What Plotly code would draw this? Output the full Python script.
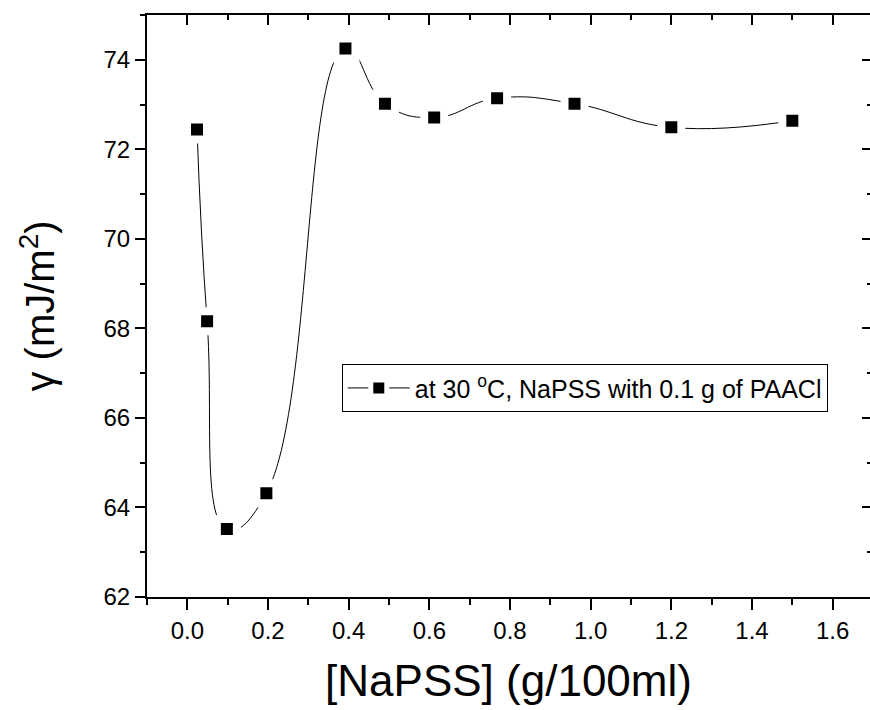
import plotly.graph_objects as go

# Data
napss = [0.024, 0.049, 0.098, 0.196, 0.392, 0.49, 0.612, 0.768, 0.96, 1.2, 1.5]
gamma = [72.44, 68.16, 63.52, 64.32, 74.25, 73.02, 72.71, 73.14, 73.02, 72.49, 72.64]

series_name = "at 30 <sup>o</sup>C, NaPSS with 0.1 g of PAACl"
x_title = "[NaPSS] (g/100ml)"
y_title = "γ (mJ/m<sup>2</sup>)"

x_range = [-0.1, 1.6926]
y_range = [62, 75]

FONT = "Liberation Sans, Arial, sans-serif"

fig = go.Figure()

# spline curve with square symbols; white symbol outline leaves a gap to the curve
fig.add_trace(go.Scatter(
    x=napss, y=gamma, mode="lines+markers", name=series_name,
    line=dict(color="black", width=1, shape="spline", smoothing=1.3),
    marker=dict(symbol="square", size=20, color="black",
                line=dict(color="white", width=8)),
    cliponaxis=False))

axis_common = dict(
    showgrid=False, zeroline=False,
    linecolor="black", linewidth=2,
    tickcolor="black", tickwidth=2,
    tickfont=dict(family=FONT, size=24, color="black"),
)

fig.update_layout(
    width=870, height=710,
    margin=dict(l=147, r=0, t=15, b=113),
    paper_bgcolor="white", plot_bgcolor="white",
    font=dict(family=FONT, color="black"),
    xaxis=dict(
        range=x_range, dtick=0.2, tick0=0, ticks="outside", ticklen=11,
        tickformat=".1f", showline=True,
        minor=dict(dtick=0.1, tick0=0, ticks="outside", ticklen=6, tickwidth=2, tickcolor="black"),
        title=dict(text=x_title, font=dict(family=FONT, size=44, color="black"), standoff=22),
        **axis_common),
    xaxis2=dict(
        range=x_range, dtick=0.2, tick0=0, ticks="inside", ticklen=10,
        overlaying="x", side="top", showticklabels=False, showline=True,
        minor=dict(dtick=0.1, tick0=0, ticks="inside", ticklen=5, tickwidth=2, tickcolor="black"),
        **axis_common),
    yaxis=dict(
        range=y_range, dtick=2, tick0=62, ticks="outside", ticklen=10,
        showline=True,
        minor=dict(dtick=1, tick0=62, ticks="outside", ticklen=5, tickwidth=2, tickcolor="black"),
        title=dict(text=y_title, font=dict(family=FONT, size=40, color="black"), standoff=36),
        **axis_common),
    yaxis2=dict(
        range=y_range, dtick=2, tick0=62, ticks="inside", ticklen=8,
        overlaying="y", side="right", showticklabels=False, showline=False,
        minor=dict(dtick=1, tick0=62, ticks="inside", ticklen=3, tickwidth=2, tickcolor="black"),
        **axis_common),
    legend=dict(
        x=0.2694, y=0.4, xanchor="left", yanchor="top",
        bgcolor="white", bordercolor="black", borderwidth=1,
        font=dict(family=FONT, size=25, color="black"),
        itemwidth=62, tracegroupgap=0),
)

# invisible trace to activate the mirrored axes
fig.add_trace(go.Scatter(x=[None], y=[None], xaxis="x2", yaxis="y2",
                         showlegend=False, hoverinfo="skip"))

fig.write_html("out.html")
